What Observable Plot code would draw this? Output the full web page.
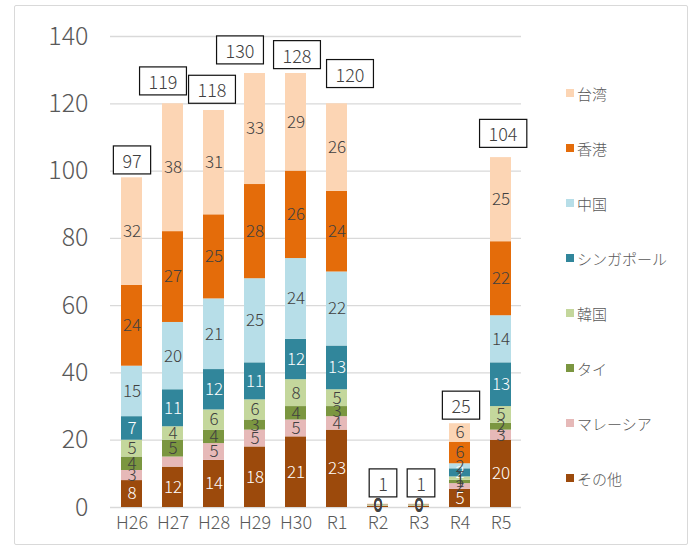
<!DOCTYPE html>
<html>
<head>
<meta charset="utf-8">
<script src="https://cdn.jsdelivr.net/npm/d3@7"></script>
<script src="https://cdn.jsdelivr.net/npm/@observablehq/plot@0.6"></script>
<style>
  body { margin: 0; background: #fff; font-family: "Noto Sans CJK JP", "Noto Sans", sans-serif; }
  #wrap { position: relative; width: 691px; height: 550px; overflow: hidden; }
  #frame { position: absolute; left: 14px; top: 5px; width: 674px; height: 540px; border: 1px solid #d9d9d9; border-radius: 2px; box-sizing: border-box; }
  #chart { position: absolute; left: 0; top: 0; }
  #chart svg text { font-weight: 300; }
  #legend { position: absolute; left: 0; top: 0; }
  .item { position: absolute; left: 566px; height: 20px; display: flex; align-items: center; white-space: nowrap; font-size: 15px; font-weight: 300; color: #595959; }
  .sw { width: 8px; height: 8px; margin-right: 3px; }
</style>
</head>
<body>
<div id="wrap">
  <div id="frame"></div>
  <div id="chart"></div>
  <div id="legend"></div>
</div>
<script>
// ---- data ----
const years = ["H26", "H27", "H28", "H29", "H30", "R1", "R2", "R3", "R4", "R5"];
const countries = ["その他", "マレーシア", "タイ", "韓国", "シンガポール", "中国", "香港", "台湾"]; // bottom -> top
const sonota    = [8, 12, 14, 18, 21, 23, 0.3, 0.3, 5.4, 20];
const malaysia  = [3, 3, 5, 5, 5, 4, 0.1, 0.1, 1.7, 3];
const thai      = [4, 5, 4, 3, 4, 3, 0.1, 0.1, 1, 2];
const korea     = [5, 4, 6, 6, 8, 5, 0.1, 0.1, 1, 5];
const singapore = [7, 11, 12, 11, 12, 13, 0.1, 0.1, 2.4, 13];
const china     = [15, 20, 21, 25, 24, 22, 0.1, 0.1, 1.5, 14];
const hongkong  = [24, 27, 25, 28, 26, 24, 0.1, 0.1, 6.4, 22];
const taiwan    = [32, 38, 31, 33, 29, 26, 0.1, 0.1, 5.5, 25];
const totals    = [97, 119, 118, 130, 128, 120, 1, 1, 25, 104];
const yTicks = [0, 20, 40, 60, 80, 100, 120, 140];
const hiddenLabels = [["H27", "マレーシア"]];

// ---- styling / layout settings ----
const colors = ["#9C4A0C", "#E6B9B8", "#7B9640", "#C4D79C", "#31869B", "#B7DEE8", "#E46C0A", "#FCD5B4"];
const darkLabelSeries = ["その他", "シンガポール"];
const totalLabelNudge = { H26: [0, -19], H27: [-10, -24], H28: [-2, -19], H29: [-15, -18], H30: [1, -20],
                          R1: [13, -28], R2: [5, -19], R3: [2, -19], R4: [1, -16], R5: [2, -22] };

const seriesValues = [sonota, malaysia, thai, korea, singapore, china, hongkong, taiwan];
const data = [];
years.forEach((yr, i) => countries.forEach((c, j) => data.push({ year: yr, country: c, value: seriesValues[j][i] })));
const totalsData = years.map((yr, i) => ({ year: yr, total: totals[i] }));
const isHidden = d => hiddenLabels.some(([y, c]) => y === d.year && c === d.country);

const font = '"Noto Sans CJK JP", "Noto Sans", sans-serif';

const totalMarks = years.map(yr => Plot.text(totalsData.filter(d => d.year === yr), {
  x: "year", y: "total", text: d => String(d.total),
  dx: totalLabelNudge[yr][0], dy: totalLabelNudge[yr][1],
  fontSize: 18, fill: "#404040"
}));

const chart = Plot.plot({
  width: 691, height: 550,
  marginLeft: 110, marginRight: 170, marginTop: 36, marginBottom: 43,
  style: { fontFamily: font, background: "transparent", overflow: "visible" },
  x: { domain: years, paddingInner: 0.5, paddingOuter: 0.25, label: null },
  y: { domain: [0, 140], label: null },
  color: { domain: countries, range: colors },
  marks: [
    Plot.gridY(yTicks, { stroke: "#d9d9d9", strokeOpacity: 1, strokeWidth: 1.3 }),
    Plot.axisY(yTicks, { tickSize: 0, tickPadding: 22, fontSize: 25, fill: "#595959", label: null }),
    Plot.axisX({ tickSize: 0, tickPadding: 9, fontSize: 18, fill: "#595959", label: null }),
    Plot.barY(data, { x: "year", y: "value", fill: "country", order: countries }),
    ...totalMarks,
    Plot.text(data, Plot.stackY({
      x: "year", y: "value", z: "country", order: countries,
      text: d => (darkLabelSeries.includes(d.country) && !isHidden(d)) ? String(Math.round(d.value)) : null,
      fill: "white", fontSize: 17
    })),
    Plot.text(data, Plot.stackY({
      x: "year", y: "value", z: "country", order: countries,
      text: d => (!darkLabelSeries.includes(d.country) && !isHidden(d)) ? String(Math.round(d.value)) : null,
      fill: "#404040", fontSize: 17
    }))
  ]
});

document.getElementById("chart").append(chart);

// boxes around total labels: the first len(years) text-mark groups are the totals
const textGroups = Array.from(chart.children).filter(el => el.tagName.toLowerCase() === "g" && el.getAttribute("aria-label") === "text");
textGroups.slice(0, years.length).forEach(g => {
  g.querySelectorAll("text").forEach(t => {
    const b = t.getBBox();
    const r = document.createElementNS("http://www.w3.org/2000/svg", "rect");
    const h = 28;
    r.setAttribute("x", b.x - 9);
    r.setAttribute("y", b.y + b.height / 2 - h / 2);
    r.setAttribute("width", b.width + 18);
    r.setAttribute("height", h);
    r.setAttribute("fill", "white");
    r.setAttribute("stroke", "#111");
    r.setAttribute("stroke-width", "1.2");
    if (t.getAttribute("transform")) r.setAttribute("transform", t.getAttribute("transform"));
    t.parentNode.insertBefore(r, t);
  });
});

// legend (top -> bottom reverses stacking order)
const legend = document.getElementById("legend");
countries.slice().reverse().forEach((c, i) => {
  const item = document.createElement("div");
  item.className = "item";
  item.style.top = (93 + i * 55 - 10) + "px";
  const sw = document.createElement("span");
  sw.className = "sw";
  sw.style.background = colors[countries.indexOf(c)];
  const label = document.createElement("span");
  label.textContent = c;
  item.append(sw, label);
  legend.append(item);
});
</script>
</body>
</html>
